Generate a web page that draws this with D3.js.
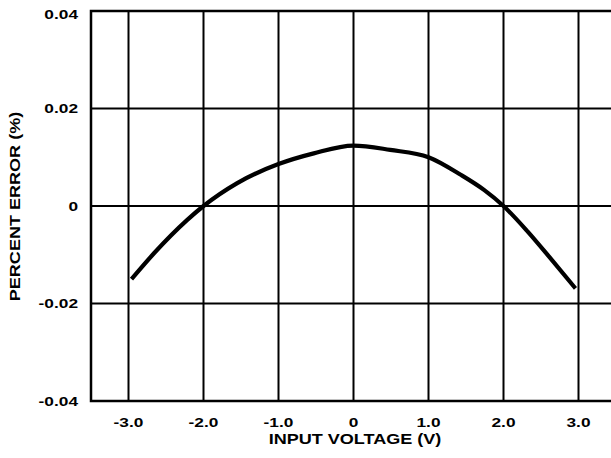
<!DOCTYPE html>
<html><head><meta charset="utf-8">
<script src="https://cdn.jsdelivr.net/npm/d3@7"></script>
<style>
html,body{margin:0;padding:0;background:#fff;}
svg{display:block;}
text{font-family:"Liberation Sans",Arial,sans-serif;font-weight:bold;fill:#000;}
</style></head>
<body>
<svg id="chart" width="611" height="458"></svg>
<script>
const voltage = [-2.96, -2.66, -2.22, -2.0, -1.55, -1.0, -0.53, 0, 0.49, 1.0, 1.43, 1.74, 2.0, 2.32, 2.63, 2.96];
const percentError = [-0.0150, -0.0097, -0.0029, 0, 0.0047, 0.0086, 0.0108, 0.0124, 0.0115, 0.0100, 0.0064, 0.0033, 0, -0.0052, -0.0108, -0.0169];
const xTicks = [-3, -2, -1, 0, 1, 2, 3];
const xTickLabels = ["-3.0", "-2.0", "-1.0", "0", "1.0", "2.0", "3.0"];
const yTicks = [-0.04, -0.02, 0, 0.02, 0.04];
const yTickLabels = ["-0.04", "-0.02", "0", "0.02", "0.04"];
const xTitle = "INPUT VOLTAGE (V)";
const yTitle = "PERCENT ERROR (%)";

const svg = d3.select("#chart");
const x = d3.scaleLinear().domain([-3.5, 3.5]).range([91, 616]);
const y = d3.scaleLinear().domain([-0.04, 0.04]).range([401, 11]);
const stretchTick = 1.33, stretchTitle = 1.29;

const g = svg.append("g");
// vertical grid
g.selectAll("line.vx").data(xTicks).join("line")
  .attr("x1", d => x(d)).attr("x2", d => x(d))
  .attr("y1", y(0.04)).attr("y2", y(-0.04))
  .attr("stroke", "#000").attr("stroke-width", 2);
// horizontal grid
g.selectAll("line.hy").data(yTicks).join("line")
  .attr("x1", x(-3.5)).attr("x2", x(3.5))
  .attr("y1", d => y(d)).attr("y2", d => y(d))
  .attr("stroke", "#000").attr("stroke-width", 2);
// border
g.append("rect").attr("x", x(-3.5)).attr("y", y(0.04))
  .attr("width", x(3.5) - x(-3.5)).attr("height", y(-0.04) - y(0.04))
  .attr("fill", "none").attr("stroke", "#000").attr("stroke-width", 2.5);

// curve
const pts = voltage.map((v, i) => [v, percentError[i]]);
g.append("path").datum(pts)
  .attr("fill", "none").attr("stroke", "#000").attr("stroke-width", 4.2)
  .attr("stroke-linejoin", "round")
  .attr("d", d3.line().x(d => x(d[0])).y(d => y(d[1])).curve(d3.curveMonotoneX));

// x tick labels
svg.selectAll("text.xt").data(xTicks).join("text")
  .attr("transform", d => `translate(${x(d)},427) scale(${stretchTick},1)`)
  .attr("text-anchor", "middle").attr("font-size", 13)
  .text((d, i) => xTickLabels[i]);
// y tick labels
svg.selectAll("text.yt").data(yTicks).join("text")
  .attr("transform", d => `translate(78,${Math.max(y(d) + 4.5, 19.3)}) scale(${stretchTick},1)`)
  .attr("text-anchor", "end").attr("font-size", 13)
  .text((d, i) => yTickLabels[i]);
// titles
svg.append("text")
  .attr("transform", `translate(355,443.5) scale(${stretchTitle},1)`)
  .attr("text-anchor", "middle").attr("font-size", 14).text(xTitle);
svg.append("text")
  .attr("transform", `translate(20,206.5) rotate(-90) scale(${stretchTitle},1)`)
  .attr("text-anchor", "middle").attr("font-size", 14).text(yTitle);
</script>
</body></html>
